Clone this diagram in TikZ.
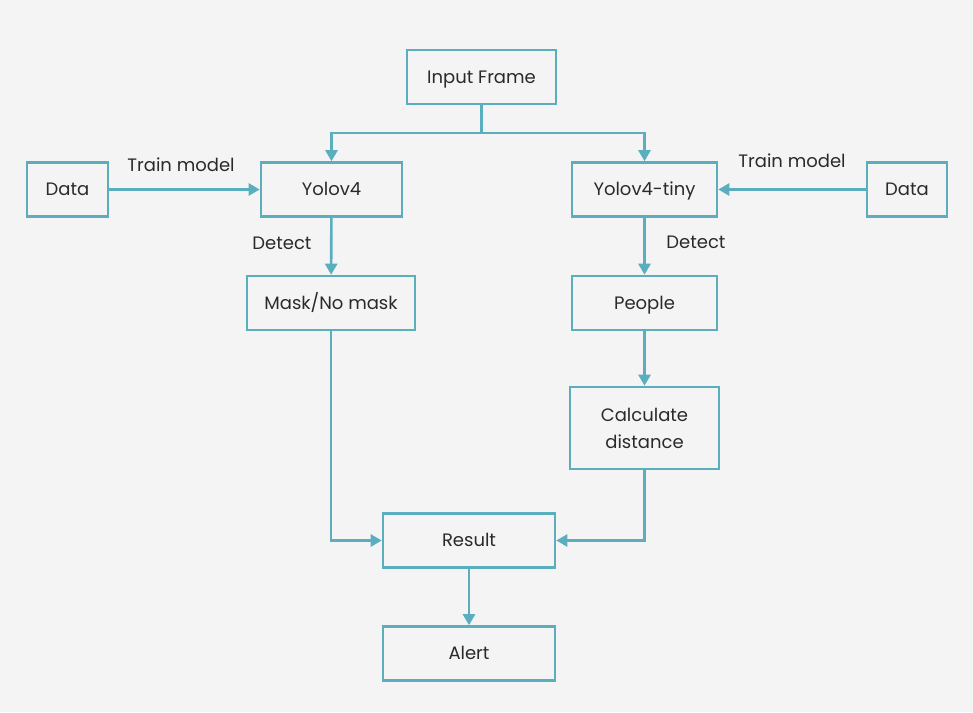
\documentclass[tikz,border=0pt]{standalone}
\usepackage{fontspec}
\setmainfont{Poppins}
\usetikzlibrary{arrows.meta}
\definecolor{teal}{HTML}{5AAEBE}
\definecolor{bg}{HTML}{F4F4F4}
\definecolor{ink}{HTML}{2A2A2A}
\tikzset{
  box/.style={draw=teal, line width=2.6pt, fill=bg, text=ink, minimum width=#1, minimum height=54pt, inner sep=0pt, align=center, font=\fontsize{18}{27}\selectfont, text height=12.6pt, text depth=0pt},
  twoline/.style={text height=, text depth=},
  conn/.style={draw=teal, line width=2.6pt, -{Triangle[length=11pt,width=12pt]}},
  lbl/.style={text=ink, font=\fontsize{18}{20}\selectfont, inner sep=0pt, text height=12.6pt, text depth=0pt}
}
\begin{document}
\begin{tikzpicture}[x=1pt,y=-1pt]
\fill[bg] (0,0) rectangle (973,712);
\useasboundingbox (0,0) rectangle (973,712);
\node[box=149pt] (input) at (481.5,77) {Input Frame};
\node[box=141pt] (yolo) at (331.5,189.5) {Yolov4};
\node[box=81pt] (dataL) at (67.5,189.5) {Data};
\node[box=145pt] (tiny) at (644.5,189.5) {Yolov4-tiny};
\node[box=80pt] (dataR) at (907,189.5) {Data};
\node[box=168pt] (mask) at (331,303) {Mask/No mask};
\node[box=145pt] (people) at (644.5,303) {People};
\node[box=149pt, twoline, minimum height=82pt] (calc) at (644.5,428) {Calculate\\distance};
\node[box=172pt] (result) at (469,540.5) {Result};
\node[box=172pt] (alert) at (469,653.5) {Alert};
\coordinate (split) at (481.5,133);
\draw[draw=teal, line width=2.6pt] (input.south) -- (split);
\draw[conn] (split) -| (yolo.north);
\draw[conn] (split) -| (tiny.north);
\draw[conn] (dataL) -- (yolo);
\draw[conn] (dataR) -- (tiny);
\draw[conn] (yolo) -- (mask);
\draw[conn] (tiny) -- (people);
\draw[conn] (people) -- (calc);
\draw[conn] (mask.south) |- (result.west);
\draw[conn] (calc.south) |- (result.east);
\draw[conn] (result) -- (alert);
\node[lbl] (t1) at (181,165) {Train model};
\node[lbl] (t2) at (792,161) {Train model};
\node[lbl] (d1) at (282,243) {Detect};
\node[lbl] (d2) at (696,242) {Detect};
\end{tikzpicture}
\end{document}
